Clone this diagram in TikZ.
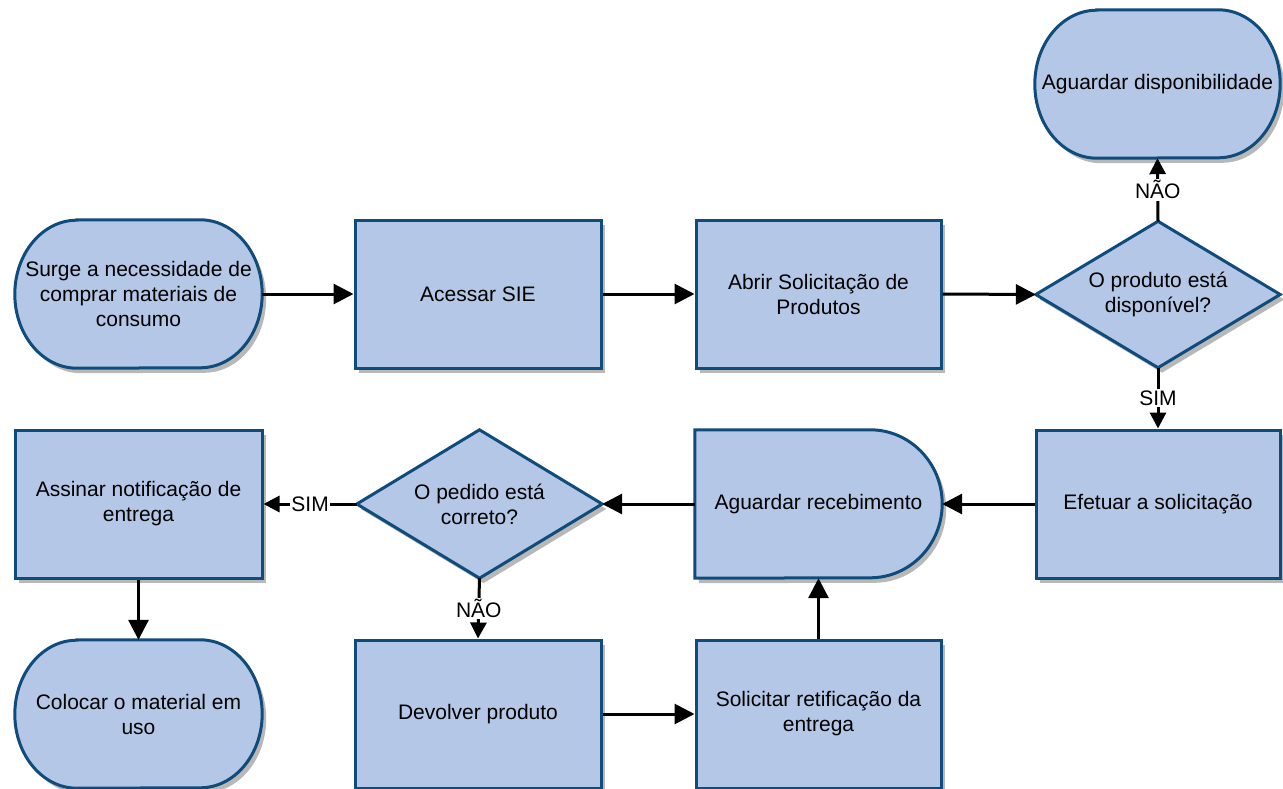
\documentclass[tikz,border=0pt]{standalone}
\usepackage{fontspec}
\setmainfont{Liberation Sans}
\usetikzlibrary{calc,shadows,arrows.meta,backgrounds}
\definecolor{shfill}{HTML}{B4C7E7}
\definecolor{shline}{HTML}{0F4C7C}
\newcommand\TermShape[2]{%
  \path[shp] ($(#1.north west)+(#2,0)$) -- ($(#1.north east)+(-#2,0)$)
    arc[start angle=90,end angle=-90,x radius=#2,y radius=74]
    -- ($(#1.south west)+(#2,0)$)
    arc[start angle=270,end angle=90,x radius=#2,y radius=74] -- cycle;}
\newcommand\DiamShape[1]{%
  \path[shp] (#1.north) -- (#1.east) -- (#1.south) -- (#1.west) -- cycle;}
\begin{document}
\begin{tikzpicture}[x=1pt,y=1pt,
  txt/.style={font=\fontsize{21}{25}\selectfont, align=center, inner sep=0pt},
  shp/.style={draw=shline, fill=shfill, line width=3pt,
    drop shadow={shadow xshift=4pt,shadow yshift=-5pt,fill=black,opacity=0.28}},
  boxnode/.style={txt, shp, rectangle, minimum width=#1, minimum height=148pt},
  free/.style={txt, rectangle, minimum width=#1, minimum height=148pt},
  freed/.style={txt, rectangle, minimum width=#1, minimum height=146pt},
  conn/.style={line width=3pt, -{Triangle[length=20pt,width=20pt]}},
  lconn/.style={line width=3pt, -{Triangle[length=16pt,width=16pt]}},
  lab/.style={fill=white, inner sep=1.5pt, font=\fontsize{21}{25}\selectfont}
]
\useasboundingbox (0,0) rectangle (1283,-789);

% row 1
\node[free=247pt] (t1) at (138.5,-294) {Surge a necessidade de\\comprar materiais de\\consumo};
\node[boxnode=246pt] (r1) at (478,-294) {Acessar SIE};
\node[boxnode=245pt] (r2) at (818.5,-294) {Abrir Solicitação de\\Produtos};
\node[freed=244pt] (d1) at (1158,-294.5) {O produto está\\disponível?};
\node[free=245pt] (t2) at (1157.5,-84) {Aguardar disponibilidade};

% row 2
\node[boxnode=244pt] (r3) at (1158,-504) {Efetuar a solicitação};
\node[free=247pt] (dl) at (818.5,-504) {Aguardar recebimento};
\node[free=245pt] (d2) at (479.5,-504) {O pedido está\\correto?};
\node[boxnode=247pt] (r4) at (138.5,-504) {Assinar notificação de\\entrega};

% row 3
\node[free=247pt] (t3) at (138.5,-714) {Colocar o material em\\uso};
\node[boxnode=246pt] (r5) at (478,-714) {Devolver produto};
\node[boxnode=245pt] (r6) at (818.5,-714) {Solicitar retificação da\\entrega};

\begin{pgfonlayer}{background}
  \TermShape{t1}{62}
  \TermShape{t2}{62}
  \TermShape{t3}{62}
  \DiamShape{d1}
  \DiamShape{d2}
  \path[shp] (dl.north west) -- ($(dl.north east)+(-72,0)$)
    arc[start angle=90,end angle=-90,x radius=72,y radius=74]
    -- (dl.south west) -- cycle;
\end{pgfonlayer}

% connectors
\draw[conn] (t1.east) -- (r1.west);
\draw[conn] (r1.east) -- (r2.west);
\draw[conn] (r2.east) -- (d1.west);
\draw[lconn] (d1.north) -- node[lab] {NÃO} (t2.south);
\draw[lconn] (d1.south) -- node[lab] {SIM} (r3.north);
\draw[conn] (r3.west) -- (dl.east);
\draw[conn] (dl.west) -- (d2.east);
\draw[lconn] (d2.west) -- node[lab] {SIM} (r4.east);
\draw[lconn] (d2.south) -- node[lab] {NÃO} (r5.north);
\draw[conn] (r4.south) -- (t3.north);
\draw[conn] (r5.east) -- (r6.west);
\draw[conn] (r6.north) -- (dl.south);
\end{tikzpicture}
\end{document}
